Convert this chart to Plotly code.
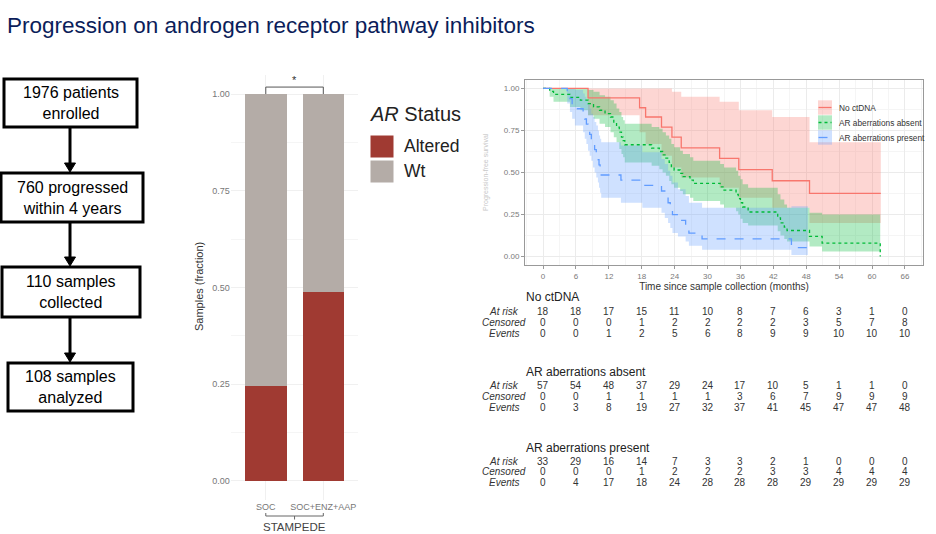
import plotly.graph_objects as go

W, H = 936, 534
def px(x): return x / W
def py(y): return 1 - y / H

FONT = "Liberation Sans, Arial, sans-serif"

# ---------------- data ----------------
title_text = "Progression on androgen receptor pathway inhibitors"
flow_steps = ["1976 patients<br>enrolled", "760 progressed<br>within 4 years",
              "110 samples<br>collected", "108 samples<br>analyzed"]

bar_groups = ["SOC", "SOC+ENZ+AAP"]
bar_pos = [0, 1]
altered_frac = [0.245, 0.49]
wt_frac = [0.755, 0.51]

group_names = ["No ctDNA", "AR aberrations absent", "AR aberrations present"]

red_t = [0, 8.2, 17.6, 18.7, 21.6, 23.5, 25.2, 32.2, 35.7, 41.8, 48.6, 61.6]
red_s = [1, 0.944, 0.885, 0.83, 0.77, 0.71, 0.647, 0.584, 0.517, 0.451, 0.376, 0.376]
red_lo = [1, 0.84, 0.74, 0.67, 0.60, 0.53, 0.47, 0.41, 0.35, 0.29, 0.20, 0.20]
red_hi = [1, 1, 1, 1, 1, 0.98, 0.95, 0.92, 0.87, 0.83, 0.68, 0.68]

grn_t = [0, 1.2, 1.9, 4.9, 6.8, 8.2, 9.2, 10.3, 11.3, 12.3, 12.9, 13.4, 13.9, 14.3, 14.6,
         14.9, 19.8, 21.2, 21.8, 22.4, 23.0, 23.4, 23.9, 25.0, 25.5, 26.8, 27.4, 32.3, 33.0,
         35.2, 35.6, 36.0, 36.4, 37.4, 42.8, 43.3, 44.0, 44.5, 48.6, 50.9, 61.5]
grn_s = [1, 0.982, 0.965, 0.947, 0.93, 0.91, 0.89, 0.87, 0.85, 0.83, 0.80, 0.77, 0.74, 0.71, 0.69,
         0.665, 0.645, 0.625, 0.605, 0.585, 0.56, 0.535, 0.515, 0.495, 0.475, 0.455, 0.435, 0.415, 0.395,
         0.37, 0.345, 0.32, 0.295, 0.265, 0.23, 0.20, 0.175, 0.155, 0.12, 0.08, 0.0]
grn_lo = [1, 0.95, 0.92, 0.89, 0.87, 0.84, 0.82, 0.79, 0.77, 0.74, 0.71, 0.68, 0.64, 0.61, 0.59,
          0.56, 0.54, 0.52, 0.50, 0.48, 0.45, 0.43, 0.41, 0.39, 0.37, 0.35, 0.33, 0.31, 0.29,
          0.27, 0.25, 0.225, 0.20, 0.185, 0.15, 0.125, 0.105, 0.09, 0.06, 0.03, 0.03]
grn_hi = [1, 1, 1, 1, 1, 0.99, 0.98, 0.96, 0.95, 0.93, 0.91, 0.88, 0.86, 0.83, 0.81,
          0.79, 0.77, 0.76, 0.74, 0.72, 0.70, 0.67, 0.65, 0.63, 0.61, 0.59, 0.57, 0.55, 0.53,
          0.51, 0.48, 0.46, 0.43, 0.41, 0.37, 0.34, 0.31, 0.29, 0.26, 0.25, 0.25]

blu_t = [0, 4.4, 4.9, 5.3, 5.8, 7.3, 7.6, 7.9, 8.2, 8.5, 8.8, 9.1, 9.4, 9.7, 10.0, 10.2, 10.4,
         10.6, 14.2, 18.1, 21.6, 22.2, 22.8, 23.2, 23.6, 24.6, 26.0, 26.6, 29.0, 45.3, 48.3]
blu_s = [1, 0.97, 0.939, 0.909, 0.879, 0.848, 0.818, 0.788, 0.758, 0.727, 0.697, 0.667, 0.636,
         0.606, 0.576, 0.545, 0.515, 0.485, 0.455, 0.424, 0.39, 0.355, 0.32, 0.285, 0.25, 0.215,
         0.18, 0.14, 0.105, 0.053, 0.053]
blu_lo = [1, 0.91, 0.86, 0.82, 0.78, 0.74, 0.70, 0.67, 0.63, 0.60, 0.57, 0.53, 0.50, 0.47, 0.44,
          0.41, 0.38, 0.35, 0.32, 0.29, 0.26, 0.23, 0.20, 0.17, 0.14, 0.12, 0.09, 0.065, 0.04,
          0.01, 0.01]
blu_hi = [1, 1, 1, 1, 0.99, 0.97, 0.95, 0.93, 0.91, 0.88, 0.85, 0.83, 0.80, 0.78, 0.75, 0.72,
          0.70, 0.68, 0.66, 0.62, 0.58, 0.55, 0.51, 0.48, 0.44, 0.40, 0.36, 0.32, 0.29, 0.30, 0.30]

risk_times = [0, 6, 12, 18, 24, 30, 36, 42, 48, 54, 60, 66]
nc_atrisk = [18, 18, 17, 15, 11, 10, 8, 7, 6, 3, 1, 0]
nc_cens = [0, 0, 0, 1, 2, 2, 2, 2, 3, 5, 7, 8]
nc_events = [0, 0, 1, 2, 5, 6, 8, 9, 9, 10, 10, 10]
ab_atrisk = [57, 54, 48, 37, 29, 24, 17, 10, 5, 1, 1, 0]
ab_cens = [0, 0, 1, 1, 1, 1, 3, 6, 7, 9, 9, 9]
ab_events = [0, 3, 8, 19, 27, 32, 37, 41, 45, 47, 47, 48]
pr_atrisk = [33, 29, 16, 14, 7, 3, 3, 2, 1, 0, 0, 0]
pr_cens = [0, 0, 0, 1, 2, 2, 2, 3, 3, 4, 4, 4]
pr_events = [0, 4, 17, 18, 24, 28, 28, 28, 29, 29, 29, 29]

# ---------------- styles ----------------
cols = ["#F8766D", "#00BA38", "#619CFF"]
fills = ["rgba(248,118,109,0.3)", "rgba(0,186,56,0.3)", "rgba(97,156,255,0.3)"]
dashes = ["solid", "dot", "dash"]
ALT_COL = "#A03A32"
WT_COL = "#B4ACA7"

fig = go.Figure()

km = [(red_t, red_s, red_lo, red_hi), (grn_t, grn_s, grn_lo, grn_hi), (blu_t, blu_s, blu_lo, blu_hi)]
for i, (t, s, lo, hi) in enumerate(km):
    fig.add_trace(go.Scatter(x=t, y=lo, mode="lines", line=dict(width=0, shape="hv"),
                             showlegend=False, hoverinfo="skip", xaxis="x", yaxis="y"))
    fig.add_trace(go.Scatter(x=t, y=hi, mode="lines", line=dict(width=0, shape="hv"),
                             fill="tonexty", fillcolor=fills[i], showlegend=False,
                             hoverinfo="skip", xaxis="x", yaxis="y"))
for i, (t, s, lo, hi) in enumerate(km):
    fig.add_trace(go.Scatter(x=t, y=s, mode="lines", name=group_names[i],
                             line=dict(color=cols[i], width=1.3, dash=dashes[i], shape="hv"),
                             showlegend=False, xaxis="x", yaxis="y"))

# bars
fig.add_trace(go.Bar(x=bar_pos, y=altered_frac, width=0.72, marker=dict(color=ALT_COL, line=dict(width=0)),
                     name="Altered", showlegend=False, xaxis="x2", yaxis="y2"))
fig.add_trace(go.Bar(x=bar_pos, y=wt_frac, width=0.72, marker=dict(color=WT_COL, line=dict(width=0)),
                     name="Wt", showlegend=False, xaxis="x2", yaxis="y2"))

shapes = []
annos = []

def note(text, x, y, xref="paper", yref="paper", xanchor="center", yanchor="middle", **kw):
    d = dict(text=text, x=x, y=y, xref=xref, yref=yref, xanchor=xanchor, yanchor=yanchor,
             showarrow=False)
    d.update(kw)
    annos.append(d)

# title
note(title_text, px(5), py(25), xanchor="left",
     font=dict(family=FONT, size=22.5, color="#0B1D5A"))

# flowchart
boxes = [(4, 79, 137, 127), (1, 173, 143, 222), (2, 267, 140, 317), (8, 363, 133, 411)]
for (x0, y0, x1, y1), label in zip(boxes, flow_steps):
    shapes.append(dict(type="rect", xref="paper", yref="paper", x0=px(x0), x1=px(x1), y0=py(y1), y1=py(y0),
                       line=dict(color="black", width=3), fillcolor="white"))
    note(label, px((x0 + x1) / 2), py((y0 + y1) / 2), align="center",
         font=dict(family=FONT, size=16, color="black"))
for k in range(3):
    ya = boxes[k][3]
    yb = boxes[k + 1][1]
    shapes.append(dict(type="line", xref="paper", yref="paper", x0=px(70), x1=px(70),
                       y0=py(ya + 1), y1=py(yb - 8), line=dict(color="black", width=3)))
    shapes.append(dict(type="path", xref="paper", yref="paper",
                       path=f"M {px(64.5)} {py(yb-10)} L {px(75.5)} {py(yb-10)} L {px(70)} {py(yb-1)} Z",
                       fillcolor="black", line=dict(color="black", width=1)))

# bar chart decorations
shapes.append(dict(type="path", xref="x2", yref="y2",
                   path="M 0 1.0 L 0 1.018 L 1 1.018 L 1 1.0", line=dict(color="#555", width=1)))
note("*", 0.5, 1.015, xref="x2", yref="y2", yanchor="bottom",
     font=dict(family=FONT, size=11, color="#333"))
# nested axis bracket
shapes.append(dict(type="path", xref="x2", yref="paper",
                   path=f"M 0 {py(513)} L 0 {py(516)} L 1 {py(516)} L 1 {py(513)}",
                   line=dict(color="#666", width=1)))
shapes.append(dict(type="line", xref="x2", yref="paper", x0=0.5, x1=0.5, y0=py(516), y1=py(519.5)),
              ) if False else None
shapes.append(dict(type="line", xref="x2", yref="paper", x0=0.5, x1=0.5, y0=py(516), y1=py(519.5),
                   line=dict(color="#666", width=1)))
note("STAMPEDE", 0.5, py(527), xref="x2", font=dict(family=FONT, size=11.5, color="#444"))
note("Samples (fraction)", px(199), py(287), textangle=-90,
     font=dict(family=FONT, size=11, color="#333"))
# bar legend
note("<i>AR</i> Status", px(368), py(114), xanchor="left",
     font=dict(family=FONT, size=20, color="#222"))
for k, (lab, c) in enumerate([("Altered", ALT_COL), ("Wt", WT_COL)]):
    y0 = 135 + 25 * k
    shapes.append(dict(type="rect", xref="paper", yref="paper", x0=px(370), x1=px(394),
                       y0=py(y0 + 23), y1=py(y0), fillcolor=c, line=dict(color="white", width=1)))
    note(lab, px(402), py(y0 + 11.5), xanchor="left", font=dict(family=FONT, size=17.5, color="#222"))

# KM legend
for k in range(3):
    yc = 107.5 + 15 * k
    shapes.append(dict(type="rect", xref="paper", yref="paper", x0=px(818), x1=px(832),
                       y0=py(yc + 7.2), y1=py(yc - 7.2), fillcolor=fills[k], line=dict(width=0)))
    shapes.append(dict(type="line", xref="paper", yref="paper", x0=px(818.5), x1=px(831.5),
                       y0=py(yc), y1=py(yc), line=dict(color=cols[k], width=1.3, dash=dashes[k])))
    note(group_names[k], px(837), py(yc), xanchor="left", font=dict(family=FONT, size=8.3, color="#333"))
note("Progression-free survival", px(486), py(172), textangle=-90,
     font=dict(family=FONT, size=7, color="#c8c8c8"))

# risk tables
tables = [
    (group_names[0], 297, [311.7, 322.7, 333.3], [nc_atrisk, nc_cens, nc_events]),
    (group_names[1], 371.7, [385.7, 396.7, 407.3], [ab_atrisk, ab_cens, ab_events]),
    (group_names[2], 447.7, [461, 471.7, 482.7], [pr_atrisk, pr_cens, pr_events]),
]
row_labels = ["At risk", "Censored", "Events"]
for gname, ty, rys, rows in tables:
    note(gname, px(524), py(ty), xanchor="left", font=dict(family=FONT, size=12, color="#222"))
    for lab, ry, vals in zip(row_labels, rys, rows):
        note(f"<i>{lab}</i>", px(504), py(ry), font=dict(family=FONT, size=10, color="#333"))
        for t, v in zip(risk_times, vals):
            note(str(v), t, py(ry), xref="x", font=dict(family=FONT, size=10, color="#333"))

GRID = "#ebebeb"
fig.update_layout(
    width=W, height=H, margin=dict(l=0, r=0, t=0, b=0),
    paper_bgcolor="white", plot_bgcolor="white",
    barmode="stack", bargap=0,
    font=dict(family=FONT),
    shapes=[s for s in shapes if s is not None], annotations=annos,
    xaxis=dict(domain=[px(525), px(923)], range=[-3.3, 69.3], anchor="y",
               tickvals=risk_times, ticktext=[str(t) for t in risk_times],
               showgrid=True, gridcolor=GRID, gridwidth=1,
               minor=dict(dtick=3, tick0=0, showgrid=True, gridcolor="#f5f5f5"),
               showline=True, mirror=True, linecolor="#999", linewidth=1,
               ticks="outside", ticklen=3, tickcolor="#999", zeroline=False,
               tickfont=dict(size=8, color="#7a7a7a"),
               title=dict(text="Time since sample collection (months)", standoff=1,
                          font=dict(size=10, color="#333"))),
    yaxis=dict(domain=[py(265), py(80)], range=[-0.05, 1.05], anchor="x",
               tickvals=[0, 0.25, 0.5, 0.75, 1], ticktext=["0.00", "0.25", "0.50", "0.75", "1.00"],
               showgrid=True, gridcolor=GRID,
               minor=dict(dtick=0.125, tick0=0, showgrid=True, gridcolor="#f5f5f5"),
               showline=True, mirror=True, linecolor="#999", linewidth=1,
               ticks="outside", ticklen=3, tickcolor="#999", zeroline=False,
               tickfont=dict(size=8, color="#7a7a7a")),
    xaxis2=dict(domain=[px(230.7), px(358.4)], range=[-0.61, 1.61], anchor="y2",
                tickvals=bar_pos, ticktext=bar_groups, showgrid=True, gridcolor="#f0f0f0",
                zeroline=False, showline=False, ticks="", tickfont=dict(size=9, color="#777")),
    yaxis2=dict(domain=[py(500), py(74.7)], range=[-0.05, 1.05], anchor="x2",
                tickvals=[0, 0.25, 0.5, 0.75, 1], ticktext=["0.00", "0.25", "0.50", "0.75", "1.00"],
                showgrid=True, gridcolor="#f0f0f0",
                minor=dict(dtick=0.125, tick0=0, showgrid=True, gridcolor="#f5f5f5"),
                zeroline=False, showline=False, ticks="", tickfont=dict(size=9, color="#777")),
)

fig.write_html("out.html")
